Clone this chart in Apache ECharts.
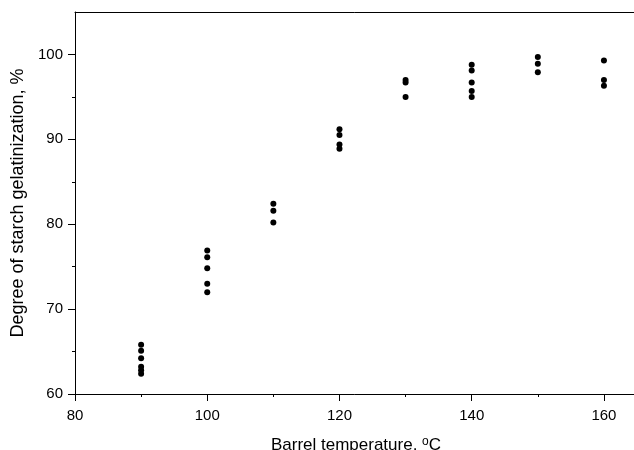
<!DOCTYPE html>
<html>
<head>
<meta charset="utf-8">
<script src="https://cdn.jsdelivr.net/npm/echarts@6/dist/echarts.min.js"></script>
<style>
  html, body { margin: 0; padding: 0; background: #fff; }
  #main { width: 634px; height: 450px; }
</style>
</head>
<body>
<div id="main"></div>
<script>
var temps = [90, 100, 110, 120, 130, 140, 150, 160];
var gel90 = [65.8, 65.1, 64.2, 63.2, 62.8, 62.4];
var gel100 = [76.9, 76.1, 74.8, 73.0, 72.0];
var gel110 = [82.4, 81.6, 80.2];
var gel120 = [91.2, 90.5, 89.4, 88.9];
var gel130 = [97.0, 96.7, 95.0];
var gel140 = [98.8, 98.1, 96.7, 95.7, 95.0];
var gel150 = [99.7, 98.9, 97.9];
var gel160 = [99.3, 97.0, 96.3];

var xMajor = [80, 100, 120, 140, 160];
var xMinor = [90, 110, 130, 150];
var yMajor = [60, 70, 80, 90, 100];
var yMinor = [65, 75, 85, 95];

var groups = [gel90, gel100, gel110, gel120, gel130, gel140, gel150, gel160];
var points = [];
for (var i = 0; i < temps.length; i++) {
    for (var j = 0; j < groups[i].length; j++) {
        points.push([temps[i], groups[i][j]]);
    }
}

var font = 'Liberation Sans, Arial, sans-serif';
var lineStyle = { color: '#000', width: 1 };

var chart = echarts.init(document.getElementById('main'));
chart.setOption({
    animation: false,
    grid: {
        left: 75, top: 12, width: 562, bottom: 56,
        outerBoundsMode: 'none'
    },
    xAxis: [{
        type: 'value', min: 80, max: 165, interval: 5,
        name: 'Barrel temperature, {sup|o}C',
        nameLocation: 'middle', nameGap: 42,
        nameTextStyle: {
            fontFamily: font, fontSize: 17, color: '#000',
            rich: { sup: { fontSize: 12, verticalAlign: 'top', padding: [0, 0, 7, 0], fontFamily: font, color: '#000' } }
        },
        axisLine: { show: true, onZero: false, lineStyle: lineStyle },
        axisTick: { show: true, length: 7, lineStyle: lineStyle, customValues: xMajor },
        axisLabel: { customValues: xMajor, fontFamily: font, fontSize: 15, color: '#000', margin: 14 },
        splitLine: { show: false }
    }, {
        type: 'value', min: 80, max: 165, interval: 5, position: 'bottom',
        axisLine: { show: false },
        axisTick: { show: true, length: 3, lineStyle: lineStyle, customValues: xMinor },
        axisLabel: { show: false },
        splitLine: { show: false }
    }, {
        // top frame line only
        type: 'value', min: 80, max: 165, position: 'top',
        axisLine: { show: true, onZero: false, lineStyle: lineStyle },
        axisTick: { show: false },
        axisLabel: { show: false },
        splitLine: { show: false }
    }],
    yAxis: [{
        type: 'value', min: 60, max: 105, interval: 5,
        name: 'Degree of starch gelatinization, %',
        nameLocation: 'middle', nameGap: 45,
        nameTextStyle: { fontFamily: font, fontSize: 18, color: '#000' },
        axisLine: { show: true, onZero: false, lineStyle: lineStyle },
        axisTick: { show: true, length: 7, lineStyle: lineStyle, customValues: yMajor },
        axisLabel: { customValues: yMajor, fontFamily: font, fontSize: 15, color: '#000', margin: 12 },
        splitLine: { show: false }
    }, {
        type: 'value', min: 60, max: 105, interval: 5, position: 'left',
        axisLine: { show: false },
        axisTick: { show: true, length: 3, lineStyle: lineStyle, customValues: yMinor },
        axisLabel: { show: false },
        splitLine: { show: false }
    }],
    series: [{
        type: 'scatter',
        data: points,
        symbol: 'circle',
        symbolSize: 6,
        itemStyle: { color: '#000', opacity: 1 }
    }]
});
</script>
</body>
</html>
